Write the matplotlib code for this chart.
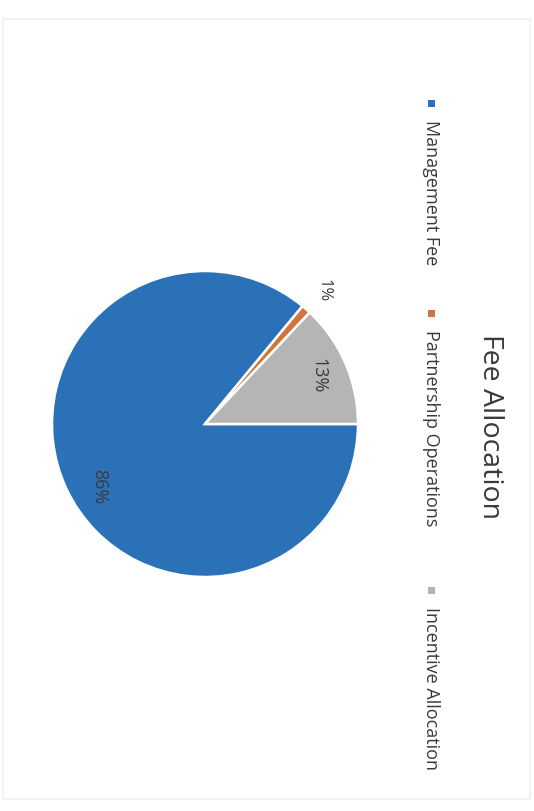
import numpy as np
import matplotlib.pyplot as plt
from matplotlib.patches import Rectangle

# chart data (scanned page is rotated 90 deg clockwise)
categories = ["Management Fee", "Partnership Operations", "Incentive Allocation"]
shares = [86, 1, 13]
pct_labels = ["86%", "1%", "13%"]
colors = ["#2b71b8", "#d5743a", "#b5b5b5"]

TXT = "#3a3a3a"
FONT = ["Open Sans", "DejaVu Sans"]

fig = plt.figure(figsize=(5.34, 8.12), dpi=100)
fig.patch.set_facecolor("white")

# faint scan frame
fig.patches.append(Rectangle((3 / 534, 12 / 812), 527 / 534, 780 / 812,
                             transform=fig.transFigure, fill=False,
                             ec="#f2f2f2", lw=1.5))

# pie centre ~ (205, 425) px, radius ~153 px
cx, cy, r = 205, 425, 153
ax = fig.add_axes([(cx - r) / 534, (812 - cy - r) / 812, 2 * r / 534, 2 * r / 812])
wedges, _ = ax.pie(shares, colors=colors, startangle=0, counterclock=False,
                   radius=1.0, wedgeprops=dict(edgecolor="white", linewidth=1.8))
ax.set_xlim(-1, 1)
ax.set_ylim(-1, 1)
ax.set_aspect("equal")
ax.axis("off")

# data labels (Excel "best fit" placement)
label_dist = [0.80, 1.17, 0.81]
label_shift = [5, 0, 0]
label_size = [13, 12, 13]
for w, lab, d, s, fs in zip(wedges, pct_labels, label_dist, label_shift, label_size):
    ang = np.deg2rad((w.theta1 + w.theta2) / 2 + s)
    ax.text(d * np.cos(ang), d * np.sin(ang), lab, rotation=270,
            ha="center", va="center", fontsize=fs, color=TXT, family=FONT)

# title, rotated with the page
fig.text(490 / 534, 1 - 427 / 812, "Fee Allocation", rotation=270,
         ha="center", va="center", fontsize=20.5, color=TXT, family=FONT)

# legend column, rotated
leg_x = 431
leg_y = [104, 314, 591]
for cat, col, y in zip(categories, colors, leg_y):
    fig.patches.append(Rectangle(((leg_x - 3.5) / 534, 1 - (y + 3.5) / 812),
                                 7 / 534, 7 / 812, transform=fig.transFigure,
                                 fc=col, ec="none"))
    fig.text(leg_x / 534, 1 - (y + 16) / 812, cat, rotation=270,
             rotation_mode="anchor", ha="left", va="center",
             fontsize=13, color=TXT, family=FONT)

plt.savefig("out.png", dpi=100)
